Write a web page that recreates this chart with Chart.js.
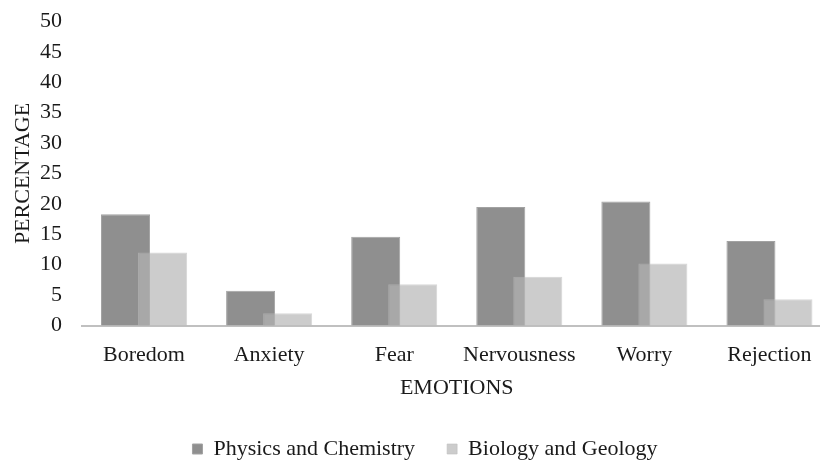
<!DOCTYPE html>
<html>
<head>
<meta charset="utf-8">
<script src="https://cdn.jsdelivr.net/npm/chart.js@4/dist/chart.umd.min.js"></script>
<style>
  html, body { margin: 0; padding: 0; background: #ffffff; overflow: hidden; }
  #wrap { width: 820px; height: 463px; overflow: hidden; position: relative; }
  canvas { position: absolute; left: 0; top: 0; }
</style>
</head>
<body>
<div id="wrap"><canvas id="chart" width="832" height="463"></canvas></div>
<script>
// Emotions reported by subject area (percentage of students)
const emotions = ['Boredom', 'Anxiety', 'Fear', 'Nervousness', 'Worry', 'Rejection'];
const physicsChemistry = [18.3, 5.7, 14.6, 19.5, 20.4, 13.9];
const biologyGeology = [12.0, 2.0, 6.8, 8.0, 10.2, 4.3];
const seriesNames = ['Physics and Chemistry', 'Biology and Geology'];
const yTicks = [0, 5, 10, 15, 20, 25, 30, 35, 40, 45, 50];

const textColor = '#1a1a1a';
const serif = 'Liberation Serif, Times New Roman, serif';

// Draw the dark series first so the translucent light bars sit on top of it
const lightOverDark = {
  id: 'lightOverDark',
  beforeDatasetDraw(chart, args) {
    if (args.index === 0) return false;
    if (args.index === 1) {
      chart.getDatasetMeta(0).controller.draw();
    }
    return true;
  }
};

new Chart(document.getElementById('chart'), {
  type: 'bar',
  data: {
    labels: emotions,
    datasets: [
      {
        label: seriesNames[0],
        data: physicsChemistry,
        backgroundColor: '#8f8f8f',
        borderColor: '#a2a2a2',
        borderWidth: 1,
        categoryPercentage: 0.592,
        barPercentage: 1.324
      },
      {
        label: seriesNames[1],
        data: biologyGeology,
        backgroundColor: 'rgba(180,180,180,0.68)',
        borderColor: 'rgba(190,190,190,0.6)',
        borderWidth: 1,
        categoryPercentage: 0.592,
        barPercentage: 1.324
      }
    ]
  },
  options: {
    responsive: false,
    animation: false,
    devicePixelRatio: 1,
    layout: { padding: { left: 18, right: 0, top: 21.5, bottom: -7 } },
    plugins: {
      tooltip: { enabled: false },
      legend: {
        position: 'bottom',
        labels: {
          font: { family: serif, size: 22 },
          color: textColor,
          boxWidth: 10,
          boxHeight: 10,
          padding: 32
        }
      }
    },
    scales: {
      x: {
        afterFit(scale) {
          scale.height = 80.5;
          scale.paddingLeft = 0;
          scale.paddingRight = 0;
        },
        grid: { display: false, drawTicks: false },
        border: { display: true, color: '#c0c0c0', width: 2 },
        ticks: { font: { family: serif, size: 22 }, color: textColor, padding: 17 },
        title: {
          display: true,
          text: 'EMOTIONS',
          font: { family: serif, size: 22 },
          color: textColor,
          padding: { top: 0, bottom: 5 }
        }
      },
      y: {
        min: 0,
        max: 50,
        afterFit(scale) {
          scale.width = 63.5;
          scale.paddingTop = 0;
          scale.paddingBottom = 0;
        },
        afterBuildTicks(scale) { scale.ticks = yTicks.map(v => ({ value: v })); },
        grid: { display: false, drawTicks: false },
        border: { display: false },
        ticks: { font: { family: serif, size: 22 }, color: textColor, padding: 19.5, autoSkip: false },
        title: {
          display: true,
          text: 'PERCENTAGE',
          font: { family: serif, size: 22 },
          color: textColor,
          padding: { top: -7.7, bottom: 0 }
        }
      }
    }
  },
  plugins: [lightOverDark]
});
</script>
</body>
</html>
